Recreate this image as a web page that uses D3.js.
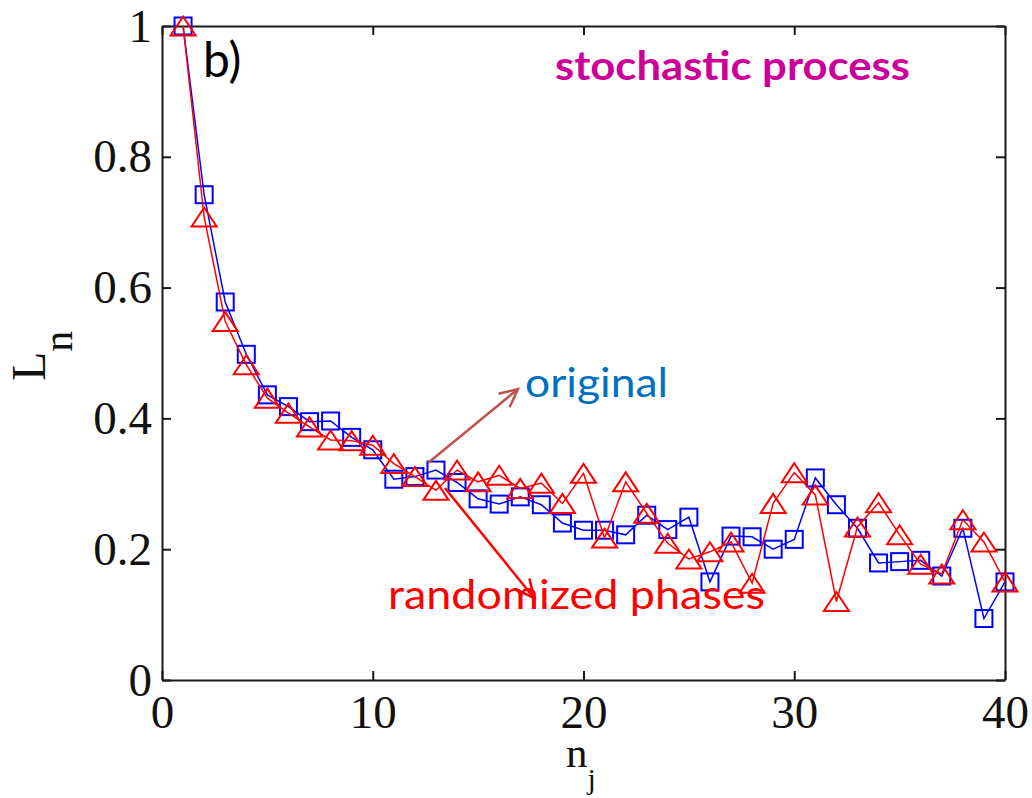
<!DOCTYPE html>
<html>
<head>
<meta charset="utf-8">
<script src="https://cdn.jsdelivr.net/npm/d3@7"></script>
<style>
  html, body { margin: 0; padding: 0; background: #fff; }
  svg { display: block; }
</style>
</head>
<body>
<div id="chart"></div>
<script>
// Order index n_j
const nValues = d3.range(1, 41);

// L_n for the original series
const originalL = [
  1.000, 0.742, 0.578, 0.498, 0.436, 0.418, 0.395, 0.396, 0.371, 0.352,
  0.307, 0.311, 0.321, 0.302, 0.277, 0.269, 0.280, 0.268, 0.240, 0.229,
  0.229, 0.222, 0.252, 0.230, 0.249, 0.150, 0.220, 0.219, 0.200, 0.215,
  0.309, 0.268, 0.232, 0.179, 0.181, 0.183, 0.159, 0.232, 0.094, 0.150
];

// L_n after phase randomization
const randomizedL = [
  1.000, 0.708, 0.548, 0.482, 0.431, 0.408, 0.387, 0.367, 0.366, 0.359,
  0.331, 0.311, 0.290, 0.321, 0.303, 0.313, 0.293, 0.301, 0.270, 0.316,
  0.217, 0.303, 0.255, 0.209, 0.185, 0.196, 0.211, 0.148, 0.270, 0.317,
  0.283, 0.120, 0.234, 0.271, 0.222, 0.177, 0.162, 0.245, 0.211, 0.150
];

const xTicks = [0, 10, 20, 30, 40];
const yTicks = [0, 0.2, 0.4, 0.6, 0.8, 1];
const yTickLabels = ["0", "0.2", "0.4", "0.6", "0.8", "1"];

const W = 1032, H = 798;
const margin = { left: 162, right: 27, top: 26, bottom: 118 };
const iw = W - margin.left - margin.right;
const ih = H - margin.top - margin.bottom;

const svg = d3.select("#chart").append("svg")
  .attr("width", W).attr("height", H);

const g = svg.append("g").attr("transform", `translate(${margin.left},${margin.top})`);

const x = d3.scaleLinear().domain([0, 40]).range([0, iw]);
const y = d3.scaleLinear().domain([0, 1]).range([ih, 0]);

const tickFont = "'Liberation Serif', 'Times New Roman', serif";
const axisColor = "#1a1a1a";

function styleAxis(sel) {
  sel.selectAll("path.domain").attr("stroke", axisColor).attr("stroke-width", 2);
  sel.selectAll(".tick line").attr("stroke", axisColor).attr("stroke-width", 2);
  sel.selectAll(".tick text")
    .attr("fill", "#111")
    .style("font-family", tickFont)
    .style("font-size", "47px");
}

// Bottom axis with inward ticks
g.append("g").attr("transform", `translate(0,${ih})`)
  .call(d3.axisBottom(x).tickValues(xTicks).tickSizeInner(-9).tickSizeOuter(0).tickPadding(15))
  .call(styleAxis);

// Top axis (ticks only)
g.append("g")
  .call(d3.axisTop(x).tickValues(xTicks).tickSizeInner(-9).tickSizeOuter(0).tickFormat(""))
  .call(styleAxis);

// Left axis
g.append("g")
  .call(d3.axisLeft(y).tickValues(yTicks).tickSizeInner(-9).tickSizeOuter(0).tickPadding(10)
    .tickFormat((d, i) => yTickLabels[i]))
  .call(styleAxis);

// Right axis (ticks only)
g.append("g").attr("transform", `translate(${iw},0)`)
  .call(d3.axisRight(y).tickValues(yTicks).tickSizeInner(-9).tickSizeOuter(0).tickFormat(""))
  .call(styleAxis);

// Series lines
const line = d3.line().x(d => x(d[0])).y(d => y(d[1]));
const origPts = nValues.map((n, i) => [n, originalL[i]]);
const randPts = nValues.map((n, i) => [n, randomizedL[i]]);

g.append("path").datum(origPts)
  .attr("d", line).attr("fill", "none")
  .attr("stroke", "#0000ff").attr("stroke-width", 1.5);

g.selectAll("rect.orig").data(origPts).enter().append("rect")
  .attr("class", "orig")
  .attr("x", d => x(d[0]) - 8.5).attr("y", d => y(d[1]) - 8.5)
  .attr("width", 17).attr("height", 17)
  .attr("fill", "none").attr("stroke", "#0000ff").attr("stroke-width", 2);

g.append("path").datum(randPts)
  .attr("d", line).attr("fill", "none")
  .attr("stroke", "#ff0000").attr("stroke-width", 1.5);

const triW = 25, triH = 19;
g.selectAll("path.rand").data(randPts).enter().append("path")
  .attr("class", "rand")
  .attr("transform", d => `translate(${x(d[0])},${y(d[1])})`)
  .attr("d", `M0,${-triH / 2}L${triW / 2},${triH / 2}L${-triW / 2},${triH / 2}Z`)
  .attr("fill", "none").attr("stroke", "#ff0000").attr("stroke-width", 2)
  .attr("stroke-linejoin", "miter");

// Axis titles
const xt = svg.append("text")
  .attr("x", 566).attr("y", 767)
  .style("font-family", tickFont).style("font-size", "43px").attr("fill", "#111");
xt.append("tspan").text("n");
xt.append("tspan").attr("dy", 22).style("font-size", "30px").text("j");

const yt = svg.append("text")
  .attr("transform", "translate(45,381) rotate(-90)")
  .style("font-family", tickFont).style("font-size", "48px").attr("fill", "#111");
yt.append("tspan").text("L");
yt.append("tspan").attr("dy", 27).style("font-size", "42px").text("n");

// Panel label and annotations
const annFont = "Lato, 'Open Sans', sans-serif";

svg.append("text").attr("x", 203).attr("y", 77)
  .style("font-family", annFont).style("font-size", "48px").attr("fill", "#000")
  .text("b)");

svg.append("text").attr("x", 555).attr("y", 80)
  .style("font-family", annFont).style("font-size", "41px").style("font-weight", "bold")
  .attr("fill", "#cc0099")
  .attr("textLength", 355).attr("lengthAdjust", "spacingAndGlyphs")
  .text("stochastic process");

svg.append("text").attr("x", 525).attr("y", 397)
  .style("font-family", annFont).style("font-size", "40px")
  .attr("fill", "#0070c0")
  .attr("textLength", 143).attr("lengthAdjust", "spacingAndGlyphs")
  .text("original");

svg.append("text").attr("x", 388).attr("y", 609)
  .style("font-family", annFont).style("font-size", "40px")
  .attr("fill", "#ff0000")
  .attr("textLength", 377).attr("lengthAdjust", "spacingAndGlyphs")
  .text("randomized phases");

// Pointer arrows with open heads
function arrow(x1, y1, x2, y2, color) {
  const ang = Math.atan2(y2 - y1, x2 - x1);
  const len = 20, spread = 0.45;
  const a1 = [x2 - len * Math.cos(ang - spread), y2 - len * Math.sin(ang - spread)];
  const a2 = [x2 - len * Math.cos(ang + spread), y2 - len * Math.sin(ang + spread)];
  svg.append("line").attr("x1", x1).attr("y1", y1).attr("x2", x2).attr("y2", y2)
    .attr("stroke", color).attr("stroke-width", 2.5);
  svg.append("path")
    .attr("d", `M${a1[0]},${a1[1]}L${x2},${y2}L${a2[0]},${a2[1]}`)
    .attr("fill", "none").attr("stroke", color).attr("stroke-width", 2.5)
    .attr("stroke-linejoin", "miter");
}
arrow(428, 463, 518, 389, "#c0504d");
arrow(445, 488, 534, 598, "#ff0000");
</script>
</body>
</html>
